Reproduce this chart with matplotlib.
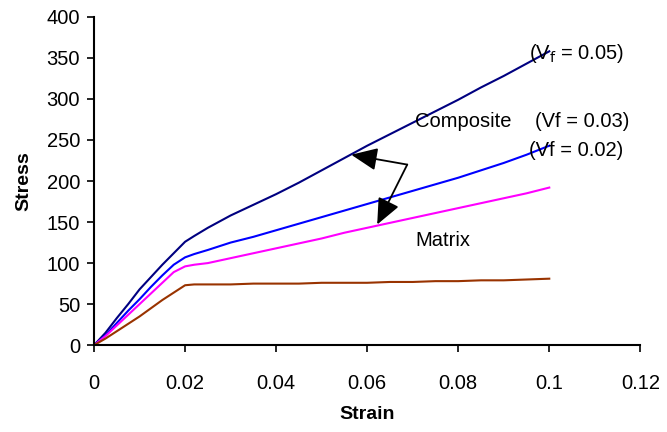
import matplotlib
matplotlib.use('Agg')
import matplotlib.pyplot as plt

plt.rcParams['font.family'] = ['Liberation Sans', 'DejaVu Sans']

# strain values shared by all curves
strain = [0, 0.0025, 0.005, 0.0075, 0.01, 0.0125, 0.015, 0.0175, 0.02, 0.022,
          0.025, 0.03, 0.035, 0.04, 0.045, 0.05, 0.055, 0.06, 0.065, 0.07,
          0.075, 0.08, 0.085, 0.09, 0.095, 0.1]

# composite Vf = 0.05
stress_05 = [0, 15, 33, 50, 68, 83, 98, 112, 126, 133, 143, 158, 171, 184, 198,
             213, 228, 243, 257, 271, 285, 299, 314, 328, 343, 358]
# composite Vf = 0.03
stress_03 = [0, 12, 27, 42, 56, 71, 85, 98, 107, 111, 116, 125, 132, 140, 148,
             156, 164, 172, 180, 188, 196, 204, 213, 222, 232, 243]
# composite Vf = 0.02
stress_02 = [0, 11, 24, 37, 50, 63, 76, 89, 96, 98, 100, 106, 112, 118, 124,
             130, 137, 143, 149, 155, 161, 167, 173, 179, 185, 192]
# matrix
stress_m = [0, 8, 17, 26, 35, 45, 55, 64, 73, 74, 74, 74, 75, 75, 75,
            76, 76, 76, 77, 77, 78, 78, 79, 79, 80, 81]

fig = plt.figure(figsize=(6.67, 4.32), dpi=100)
ax = fig.add_axes([0.141, 0.201, 0.819, 0.76])

ax.plot(strain, stress_05, color='#000080', lw=1.5)
ax.plot(strain, stress_03, color='#0000ff', lw=1.5)
ax.plot(strain, stress_02, color='#ff00ff', lw=1.5)
ax.plot(strain, stress_m, color='#993300', lw=1.5)

ax.set_xlim(0, 0.12)
ax.set_ylim(0, 400)
ax.set_xticks([0, 0.02, 0.04, 0.06, 0.08, 0.1, 0.12])
ax.set_xticklabels(['0', '0.02', '0.04', '0.06', '0.08', '0.1', '0.12'])
ax.set_yticks(range(0, 401, 50))
ax.tick_params(labelsize=14.5, direction='out', length=5, width=1.2, pad=5)
ax.tick_params(axis='x', pad=16)
ax.spines['top'].set_visible(False)
ax.spines['right'].set_visible(False)
for s in ['left', 'bottom']:
    ax.spines[s].set_linewidth(1.5)

ax.set_xlabel('Strain', fontsize=14, fontweight='bold', labelpad=9)
ax.set_ylabel('Stress', fontsize=14, fontweight='bold', labelpad=10)

ax.text(0.0955, 355, r'(V$_\mathrm{f}$ = 0.05)', fontsize=14.5, va='center')
ax.text(0.0705, 272, 'Composite', fontsize=14.5, va='center')
ax.text(0.0968, 272, '(Vf = 0.03)', fontsize=14.5, va='center')
ax.text(0.0955, 237, '(Vf = 0.02)', fontsize=14.5, va='center')
ax.text(0.0705, 128, 'Matrix', fontsize=14.5, va='center')

vertex = (0.0688, 220)
for tip in [(0.0565, 232), (0.0622, 147)]:
    ax.annotate('', xy=tip, xytext=vertex,
                arrowprops=dict(arrowstyle='-|>,head_length=1.6,head_width=0.7',
                                color='black', lw=1.3, shrinkA=0, shrinkB=0))

fig.savefig('out.png', dpi=100)
